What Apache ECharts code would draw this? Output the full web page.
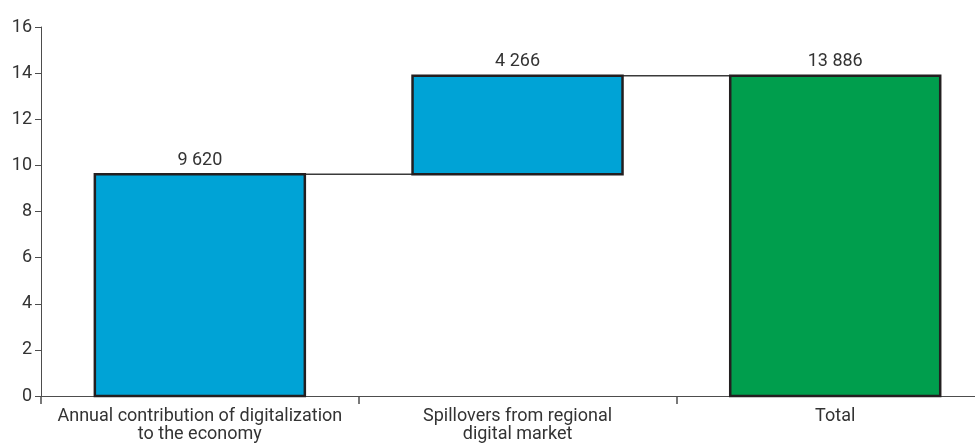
<!DOCTYPE html>
<html>
<head>
<meta charset="utf-8">
<script src="https://cdn.jsdelivr.net/npm/echarts@6/dist/echarts.min.js"></script>
<style>html,body{margin:0;padding:0;background:#fff;}#c{width:975px;height:444px;}</style>
</head>
<body>
<div id="c"></div>
<script>
var categories = ["Annual contribution of digitalization\nto the economy", "Spillovers from regional\ndigital market", "Total"];
var values = [9620, 4266, 13886];
var isTotal = [false, false, true];
var yTicks = [0, 2, 4, 6, 8, 10, 12, 14, 16];

var FONT = 'Roboto, "DejaVu Sans Condensed", sans-serif';
var BAR_FRAC = 0.661;
var scale = 1000;
var bases = [];
var running = 0;
for (var i = 0; i < values.length; i++) {
  if (isTotal[i]) { bases.push(0); running = values[i]; }
  else { bases.push(running); running += values[i]; }
}
var tops = values.map(function (v, i) { return (bases[i] + v) / scale; });
function fmt(v) { return String(v).replace(/\B(?=(\d{3})+(?!\d))/g, ' '); }

var idx = categories.map(function (c, i) { return i; });
var boundaries = [-0.5].concat(idx.slice(0, -1).map(function (i) { return i + 0.5; }));

var barData = values.map(function (v, i) { return [i, bases[i] / scale, tops[i]]; });
var connData = tops.slice(0, -1).map(function (t, i) { return [i, t]; });

var chart = echarts.init(document.getElementById('c'));
chart.setOption({
  animation: false,
  grid: { left: 41, right: 0, top: 27, bottom: 48 },
  xAxis: {
    type: 'value',
    min: -0.5, max: 2.44,
    splitLine: { show: false },
    axisLine: { show: true, onZero: false, lineStyle: { color: '#4d4d4d', width: 1 } },
    axisTick: { show: true, length: 8, customValues: boundaries, lineStyle: { color: '#4d4d4d', width: 1.5 } },
    axisLabel: { customValues: idx, color: '#333', fontFamily: FONT, fontSize: 18, lineHeight: 18, margin: 11,
      formatter: function (v) { return categories[Math.round(v)] || ''; } }
  },
  yAxis: {
    type: 'value',
    min: 0, max: 16, interval: 2,
    splitLine: { show: false },
    axisLine: { show: true, onZero: false, lineStyle: { color: '#4d4d4d', width: 1 } },
    axisTick: { show: true, length: 6, lineStyle: { color: '#4d4d4d' } },
    axisLabel: { color: '#333', fontFamily: FONT, fontSize: 18, margin: 9,
      formatter: function (v) { return yTicks.indexOf(v) >= 0 ? String(v) : ''; } }
  },
  series: [
    {
      type: 'custom',
      data: connData,
      silent: true,
      z: 1,
      renderItem: function (params, api) {
        var i = api.value(0), lvl = api.value(1);
        var w = api.size([1, 0])[0] * BAR_FRAC;
        var a = api.coord([i, lvl]);
        var b = api.coord([i + 1, lvl]);
        return {
          type: 'line',
          shape: { x1: a[0] + w / 2, y1: a[1], x2: b[0] - w / 2, y2: b[1] },
          style: { stroke: '#3a3a3a', lineWidth: 1.5 }
        };
      }
    },
    {
      type: 'custom',
      data: barData,
      silent: true,
      z: 3,
      renderItem: function (params, api) {
        var i = api.value(0), base = api.value(1), top = api.value(2);
        var w = api.size([1, 0])[0] * BAR_FRAC;
        var pt = api.coord([i, top]);
        var pb = api.coord([i, base]);
        return {
          type: 'group',
          children: [
            {
              type: 'rect',
              shape: { x: pt[0] - w / 2, y: pt[1], width: w, height: pb[1] - pt[1] },
              style: { fill: isTotal[i] ? '#009e4d' : '#00a3d6', stroke: '#231f20', lineWidth: 2.5 }
            },
            {
              type: 'text',
              style: {
                text: fmt(values[i]), x: pt[0], y: pt[1] - 5,
                align: 'center', verticalAlign: 'bottom',
                fill: '#333', fontFamily: 'Roboto', fontSize: 18
              }
            }
          ]
        };
      }
    }
  ]
});
</script>
</body>
</html>
